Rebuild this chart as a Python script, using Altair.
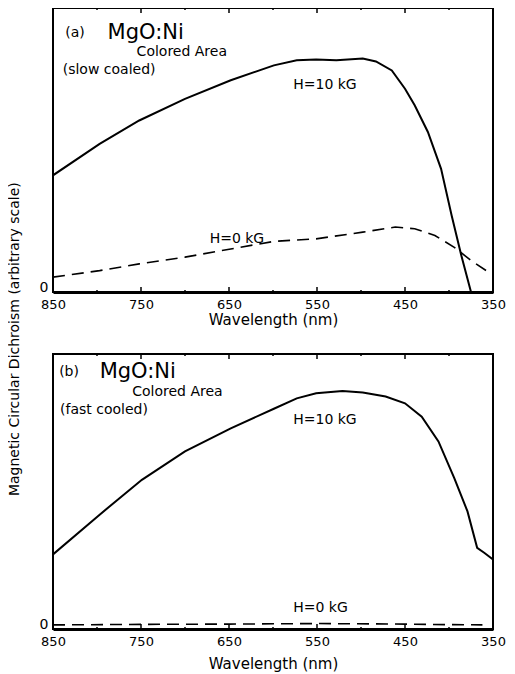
import altair as alt
import pandas as pd

# ---- data (wavelength in nm, MCD in arbitrary units) ----
wl_a_10 = [850, 797, 752, 700, 648, 599, 573, 551, 528, 498, 483, 465, 450, 439, 424, 409, 397, 386, 375]
val_a_10 = [40.5, 51.7, 60.0, 67.7, 74.3, 79.6, 81.4, 81.7, 81.4, 82.0, 81.0, 77.8, 71.3, 65.4, 55.9, 42.8, 26.2, 12.0, -1.0]
wl_a_0 = [850, 797, 752, 700, 648, 599, 551, 498, 461, 439, 416, 394, 375, 352]
val_a_0 = [4.3, 6.6, 9.0, 11.4, 14.3, 17.0, 17.9, 20.3, 22.1, 21.5, 19.1, 14.9, 10.2, 5.4]

wl_b_10 = [850, 797, 749, 700, 648, 599, 573, 551, 521, 498, 472, 450, 431, 412, 394, 379, 368, 360, 350]
val_b_10 = [26.4, 41.0, 53.8, 64.2, 72.7, 79.9, 83.7, 85.6, 86.4, 85.9, 84.4, 81.9, 77.0, 67.9, 54.4, 42.2, 28.8, 27.0, 24.5]
wl_b_0 = [850, 750, 650, 550, 450, 400, 362]
val_b_0 = [0.5, 0.7, 0.8, 1.0, 0.8, 0.6, 0.5]

major_ticks = [850, 750, 650, 550, 450, 350]
minor_ticks = [800, 700, 600, 500, 400]

# annotations (data coordinates)
ann_a_text = ["(a)", "MgO:Ni", "Colored Area", "(slow coaled)", "H=10 kG", "H=0 kG"]
ann_a_wl = [836, 788, 755, 839, 577, 672]
ann_a_val = [91.1, 91.1, 84.3, 77.9, 72.6, 17.8]
ann_b_text = ["(b)", "MgO:Ni", "Colored Area", "(fast cooled)", "H=10 kG", "H=0 kG"]
ann_b_wl = [843, 797, 760, 842, 577, 577]
ann_b_val = [93.5, 93.5, 86.2, 79.6, 75.9, 6.7]
ann_size = [14, 21, 14, 14, 14, 14]

FONT = "DejaVu Sans"
W = 440
H_A = 284
H_B = 275

xscale = alt.Scale(domain=[850, 350], nice=False)
yscale = alt.Scale(domain=[-1, 100], nice=False, zero=False)


def xaxis(title_pad):
    return alt.Axis(values=major_ticks, ticks=False, labelFontSize=13, labelFont=FONT,
                    labelColor="black", title="Wavelength (nm)", titleFontSize=15,
                    titleFont=FONT, titleFontWeight="normal", titleColor="black",
                    domainColor="black", domainWidth=3, labelPadding=6,
                    titlePadding=title_pad, grid=False, labelFlush=False)


yaxis = alt.Axis(values=[0], ticks=False, domain=False, labelFontSize=14, labelFont=FONT,
                 labelColor="black", title=None, grid=False, labelPadding=5, labelOffset=-2)


def panel(wl10, v10, wl0, v0, atext, awl, aval, h, title_pad):
    d10 = pd.DataFrame({"wl": wl10, "v": v10})
    d0 = pd.DataFrame({"wl": wl0, "v": v0})
    x = alt.X("wl:Q", scale=xscale, axis=xaxis(title_pad))
    y = alt.Y("v:Q", scale=yscale, axis=yaxis)
    solid = alt.Chart(d10).mark_line(color="black", strokeWidth=2, clip=True).encode(x=x, y=y)
    dashed = alt.Chart(d0).mark_line(color="black", strokeWidth=1.6, strokeDash=[12, 7]).encode(
        x="wl:Q", y="v:Q")
    ticks = []
    for vals, ln in ((major_ticks, 5), (minor_ticks, 2)):
        dd = pd.DataFrame({"wl": vals})
        ticks.append(alt.Chart(dd).mark_rule(color="black", strokeWidth=1.5).encode(
            x="wl:Q", y=alt.value(h), y2=alt.value(h - ln)))
        ticks.append(alt.Chart(dd).mark_rule(color="black", strokeWidth=1.5).encode(
            x="wl:Q", y=alt.value(0), y2=alt.value(ln)))
    ad = pd.DataFrame({"t": atext, "wl": awl, "v": aval, "s": ann_size})
    texts = alt.Chart(ad).mark_text(align="left", baseline="middle", font=FONT,
                                    color="black").encode(
        x="wl:Q", y="v:Q", text="t:N",
        size=alt.Size("s:Q", scale=None, legend=None))
    return alt.layer(solid, dashed, *ticks, texts).properties(width=W, height=h)


top = panel(wl_a_10, val_a_10, wl_a_0, val_a_0, ann_a_text, ann_a_wl, ann_a_val, H_A, 1)
bottom = panel(wl_b_10, val_b_10, wl_b_0, val_b_0, ann_b_text, ann_b_wl, ann_b_val, H_B, 8)

chart = alt.vconcat(top, bottom, spacing=62, bounds="flush").properties(
    title=alt.TitleParams("Magnetic Circular Dichroism (arbitrary scale)", orient="left",
                          anchor="middle", fontSize=14, font=FONT, fontWeight="normal",
                          color="black", offset=16),
    padding={"left": 0, "top": -2, "right": 0, "bottom": 0},
    background="white",
).configure_view(stroke="black", strokeWidth=2)

chart.save("out.html", embed_options={"renderer": "svg", "actions": False})
